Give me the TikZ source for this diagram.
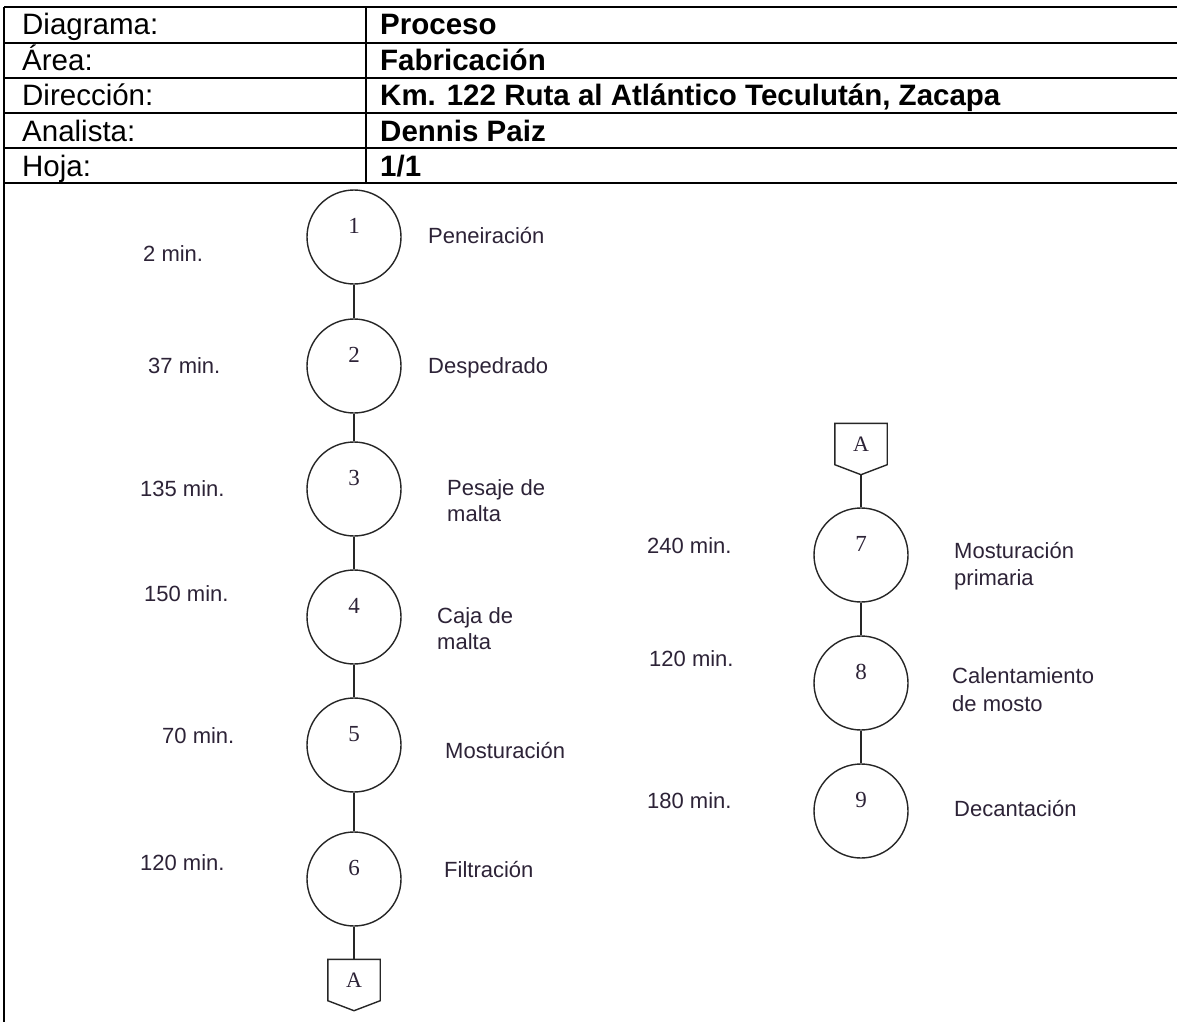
\documentclass[tikz,border=0pt]{standalone}
\usepackage{fontspec}
\setmainfont{Liberation Sans}
\newfontfamily\numfont{Liberation Serif}
\usetikzlibrary{calc}
\definecolor{ink}{RGB}{45,35,55}
\begin{document}
\begin{tikzpicture}[x=1pt,y=-1pt,
  rule/.style={line width=2.4pt, black},
  hdr/.style={anchor=base west, inner sep=0, font=\fontsize{29.5}{32}\selectfont},
  hdrb/.style={anchor=base west, inner sep=0, font=\fontsize{29.5}{32}\selectfont\bfseries},
  op/.style={circle, draw=black!85, line width=1.4pt, minimum size=94pt, inner sep=0},
  num/.style={inner sep=0, font=\numfont\fontsize{23}{23}\selectfont, text=ink},
  lbl/.style={anchor=base west, inner sep=0, font=\fontsize{22}{26}\selectfont, text=ink},
  flow/.style={line width=1.4pt, black!85},
  offpage/.style={minimum width=52pt, minimum height=41pt, inner sep=0, font=\numfont\fontsize{22}{22}\selectfont, text=ink}
]
\useasboundingbox (0,0) rectangle (1177,1022);
\fill[white] (0,0) rectangle (1177,1022);

% header table
\foreach \yy in {7,43,78,113,148,183}
  \draw[rule] (4,\yy) -- (1177,\yy);
\draw[rule] (4,7) -- (4,1022);
\draw[rule] (366,7) -- (366,183);

\node[hdr] (k1) at (22,35) {Diagrama:};
\node[hdr] (k2) at (22,71) {Área:};
\node[hdr] (k3) at (22,106) {Dirección:};
\node[hdr] (k4) at (22,141) {Analista:};
\node[hdr] (k5) at (22,176) {Hoja:};
\node[hdrb] (v1) at (380,35) {Proceso};
\node[hdrb] (v2) at (380,71) {Fabricación};
\node[hdrb] (v3) at (380,106) {Km. 122 Ruta al Atlántico Teculután, Zacapa};
\node[hdrb] (v4) at (380,141) {Dennis Paiz};
\node[hdrb] (v5) at (380,176) {1/1};

% left column of operations
\node[op] (c1) at (354,237) {};
\node[op] (c2) at (354,366) {};
\node[op] (c3) at (354,489) {};
\node[op] (c4) at (354,617) {};
\node[op] (c5) at (354,745) {};
\node[op] (c6) at (354,879) {};
\node[num] (n1) at ([yshift=11pt]c1.center) {1};
\node[num] (n2) at ([yshift=11pt]c2.center) {2};
\node[num] (n3) at ([yshift=11pt]c3.center) {3};
\node[num] (n4) at ([yshift=11pt]c4.center) {4};
\node[num] (n5) at ([yshift=11pt]c5.center) {5};
\node[num] (n6) at ([yshift=11pt]c6.center) {6};
\draw[flow] (c1) -- (c2);
\draw[flow] (c2) -- (c3);
\draw[flow] (c3) -- (c4);
\draw[flow] (c4) -- (c5);
\draw[flow] (c5) -- (c6);

% off-page connector at the foot of the left column
\node[offpage] (A1) at (354,980) {A};
\draw[flow] (A1.north west) -- (A1.north east) -- (A1.south east)
  -- ($(A1.south)+(0,10)$) -- (A1.south west) -- cycle;
\draw[flow] (c6) -- (A1);

% times, left column
\node[lbl] (t1) at (143,261) {2 min.};
\node[lbl] (t2) at (148,373) {37 min.};
\node[lbl] (t3) at (140,496) {135 min.};
\node[lbl] (t4) at (144,601) {150 min.};
\node[lbl] (t5) at (162,743) {70 min.};
\node[lbl] (t6) at (140,870) {120 min.};

% activity names, left column
\node[lbl] (d1) at (428,243) {Peneiración};
\node[lbl] (d2) at (428,373) {Despedrado};
\node[lbl] (d3a) at (447,495) {Pesaje de};
\node[lbl] (d3b) at (447,521) {malta};
\node[lbl] (d4a) at (437,623) {Caja de};
\node[lbl] (d4b) at (437,649) {malta};
\node[lbl] (d5) at (445,758) {Mosturación};
\node[lbl] (d6) at (444,877) {Filtración};

% right column
\node[offpage] (A2) at (861,444) {A};
\draw[flow] (A2.north west) -- (A2.north east) -- (A2.south east)
  -- ($(A2.south)+(0,10)$) -- (A2.south west) -- cycle;
\coordinate (A2tip) at ($(A2.south)+(0,10)$);

\node[op] (c7) at (861,555) {};
\node[op] (c8) at (861,683) {};
\node[op] (c9) at (861,811) {};
\node[num] (n7) at ([yshift=11pt]c7.center) {7};
\node[num] (n8) at ([yshift=11pt]c8.center) {8};
\node[num] (n9) at ([yshift=11pt]c9.center) {9};
\draw[flow] (A2tip) -- (c7);
\draw[flow] (c7) -- (c8);
\draw[flow] (c8) -- (c9);

\node[lbl] (t7) at (647,553) {240 min.};
\node[lbl] (t8) at (649,666) {120 min.};
\node[lbl] (t9) at (647,808) {180 min.};

\node[lbl] (d7a) at (954,558) {Mosturación};
\node[lbl] (d7b) at (954,585) {primaria};
\node[lbl] (d8a) at (952,683) {Calentamiento};
\node[lbl] (d8b) at (952,711) {de mosto};
\node[lbl] (d9) at (954,816) {Decantación};
\end{tikzpicture}
\end{document}
